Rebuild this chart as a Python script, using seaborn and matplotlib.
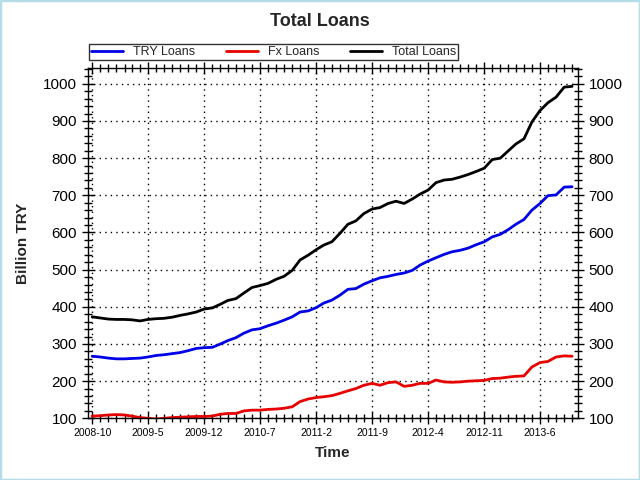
import pandas as pd
import numpy as np
import matplotlib
matplotlib.use("Agg")
import matplotlib.pyplot as plt
import matplotlib.dates as mdates
from matplotlib.ticker import MultipleLocator, FuncFormatter
from matplotlib.patches import Rectangle
import seaborn as sns

# monthly values, 2008-10 .. 2013-10 (billion TRY)
months = pd.date_range("2008-10-01", "2013-10-01", freq="MS")

try_loans = [267, 265, 262, 260, 260, 261, 262, 265, 269, 271, 274, 277, 282, 288, 290,
             291, 300, 309, 317, 329, 338, 341, 349, 356, 364, 373, 386, 389, 398, 410,
             418, 431, 447, 449, 461, 470, 478, 482, 487, 491, 498, 512, 523, 532, 541,
             548, 552, 558, 567, 575, 588, 595, 608, 622, 635, 660, 678, 699, 701, 722, 723]

fx_loans = [106, 107, 109, 110, 109, 106, 102, 100, 98, 100, 102, 103, 104, 105, 105,
            106, 111, 113, 113, 120, 122, 122, 124, 125, 127, 131, 145, 152, 156, 158,
            161, 167, 174, 180, 189, 194, 189, 196, 198, 186, 189, 194, 194, 203, 198,
            197, 198, 200, 201, 202, 207, 208, 211, 213, 214, 238, 250, 253, 265, 268, 267]

total_loans = [373, 370, 367, 366, 366, 365, 362, 366, 368, 369, 372, 377, 381, 386, 394,
               397, 407, 417, 422, 437, 452, 457, 463, 474, 482, 498, 526, 539, 554, 566,
               575, 597, 622, 631, 651, 663, 667, 678, 684, 678, 690, 703, 714, 734, 741,
               743, 749, 756, 764, 773, 796, 800, 820, 838, 852, 897, 928, 949, 964, 991, 993]

series_names = ["TRY Loans", "Fx Loans", "Total Loans"]
series_colors = ["#0000e6", "#e60000", "#000000"]

df = pd.DataFrame({"Time": months, "TRY Loans": try_loans,
                   "Fx Loans": fx_loans, "Total Loans": total_loans})
long = df.melt(id_vars="Time", var_name="Series", value_name="Billion TRY")

sns.set_style("ticks")
plt.rcParams["font.family"] = ["Liberation Sans", "DejaVu Sans"]

fig = plt.figure(figsize=(6.4, 4.8), dpi=100)
ax = fig.add_axes([0.1375, 0.1285, 0.765, 0.7295])

sns.lineplot(data=long, x="Time", y="Billion TRY", hue="Series",
             hue_order=series_names, palette=series_colors,
             linewidth=2.0, ax=ax, legend=False)

ax.set_xlim(pd.Timestamp("2008-09-15"), pd.Timestamp("2013-10-22"))
ax.set_ylim(100, 1042)

# y: every 100 with minor every 20; x: label every 7 months, tick every month
ax.yaxis.set_major_locator(MultipleLocator(100))
ax.yaxis.set_minor_locator(MultipleLocator(20))
ax.set_xticks(pd.date_range("2008-10-01", "2013-10-01", freq="7MS"))
ax.xaxis.set_minor_locator(mdates.MonthLocator())
ax.xaxis.set_major_formatter(FuncFormatter(
    lambda v, p: f"{mdates.num2date(v).year}-{mdates.num2date(v).month}"))

ax.tick_params(axis="both", which="both", direction="inout", colors="black",
               top=True, right=True, labelright=True)
ax.tick_params(axis="both", which="major", length=8, width=1)
ax.tick_params(axis="both", which="minor", length=6, width=1)
ax.tick_params(axis="y", labelsize=11, pad=4)
ax.tick_params(axis="x", labelsize=7.5, pad=3)

ax.grid(True, which="major", color="black", linestyle=(0, (1, 3)), linewidth=1)
for s in ax.spines.values():
    s.set_color("black")
    s.set_linewidth(1)

ax.set_xlabel("Time", fontsize=11, fontweight="bold", labelpad=6)
ax.set_ylabel("Billion TRY", fontsize=11, fontweight="bold", labelpad=9)

fig.text(0.5, 0.955, "Total Loans", ha="center", va="center",
         fontsize=13, fontweight="bold")

handles = [plt.Line2D([], [], color=c, linewidth=2.0) for c in series_colors]
leg = fig.legend(handles, series_names, loc="upper left",
                 bbox_to_anchor=(89 / 640, 1 - 44 / 480), ncol=3, fontsize=9,
                 frameon=True, fancybox=False, borderpad=0.15, handlelength=2.6,
                 handletextpad=0.8, columnspacing=2.4, borderaxespad=0)
leg.get_frame().set_edgecolor("black")
leg.get_frame().set_linewidth(1)

fig.patches.append(Rectangle((0, 0), 1, 1, transform=fig.transFigure, fill=False,
                             edgecolor="#b4dce6", linewidth=2.5))

fig.savefig("out.png", dpi=100)
